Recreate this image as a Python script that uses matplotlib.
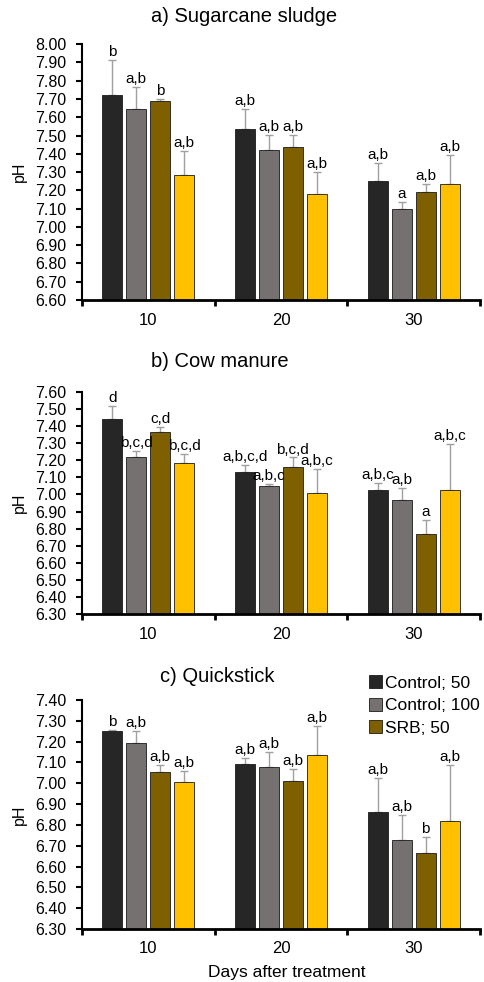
import matplotlib.pyplot as plt
import numpy as np

plt.rcParams['font.family'] = ['Liberation Sans', 'DejaVu Sans']

days = ['10', '20', '30']
series = ['Control; 50', 'Control; 100', 'SRB; 50', 'SRB; 100']
colors = ['#262626', '#767171', '#7f6000', '#ffc000']

# panel a) sugarcane sludge: rows = series, cols = day
sludge_mean = [[7.72, 7.535, 7.253],
               [7.645, 7.422, 7.096],
               [7.69, 7.437, 7.191],
               [7.282, 7.178, 7.233]]
sludge_top = [[7.912, 7.645, 7.351],
              [7.765, 7.504, 7.134],
              [7.70, 7.504, 7.234],
              [7.413, 7.302, 7.395]]
sludge_lbl = [['b', 'a,b', 'a,b'],
              ['a,b', 'a,b', 'a'],
              ['b', 'a,b', 'a,b'],
              ['a,b', 'a,b', 'a,b']]

# panel b) cow manure
manure_mean = [[7.442, 7.133, 7.028],
               [7.217, 7.048, 6.970],
               [7.364, 7.163, 6.767],
               [7.182, 7.009, 7.028]]
manure_top = [[7.518, 7.174, 7.067],
              [7.254, 7.061, 7.036],
              [7.395, 7.217, 6.85],
              [7.235, 7.149, 7.294]]
manure_lbl = [['d', 'a,b,c,d', 'a,b,c'],
              ['b,c,d', 'a,b,c', 'a,b'],
              ['c,d', 'b,c,d', 'a'],
              ['b,c,d', 'a,b,c', 'a,b,c']]

# panel c) quickstick
quick_mean = [[7.253, 7.091, 6.863],
              [7.192, 7.08, 6.725],
              [7.055, 7.012, 6.663],
              [7.007, 7.138, 6.82]]
quick_top = [[7.256, 7.12, 7.026],
             [7.251, 7.151, 6.848],
             [7.087, 7.067, 6.74],
             [7.061, 7.275, 7.087]]
quick_lbl = [['b', 'a,b', 'a,b'],
             ['a,b', 'a,b', 'a,b'],
             ['a,b', 'a,b', 'b'],
             ['a,b', 'a,b', 'a,b']]

panels = [
    ('a) Sugarcane sludge', sludge_mean, sludge_top, sludge_lbl, (6.6, 8.0),
     [0.169, 0.6945, 0.823, 0.2605], (0.504, 0.9837)),
    ('b) Cow manure', manure_mean, manure_top, manure_lbl, (6.3, 7.6),
     [0.169, 0.3747, 0.823, 0.2261], (0.455, 0.6314)),
    ('c) Quickstick', quick_mean, quick_top, quick_lbl, (6.3, 7.4),
     [0.169, 0.054, 0.823, 0.2332], (0.448, 0.3106)),
]

fig = plt.figure(figsize=(4.84, 9.82), dpi=100)
x = np.arange(len(days)) + 1
width = 0.15
step = 0.18

for title, mean, top, lbl, ylim, pos, tpos in panels:
    ax = fig.add_axes(pos)
    for i, name in enumerate(series):
        xs = x + (i - 1.5) * step
        m = np.array(mean[i])
        err = np.array(top[i]) - m
        ax.bar(xs, m - ylim[0], width, bottom=ylim[0], color=colors[i],
               edgecolor='#1a1a1a', linewidth=0.6, label=name, zorder=2)
        ax.errorbar(xs, m, yerr=[np.zeros_like(err), err], fmt='none',
                    ecolor='#a0a0a0', elinewidth=1, capsize=3, capthick=1, zorder=1)
        for xx, tt, s in zip(xs, top[i], lbl[i]):
            ax.text(xx, tt + (ylim[1] - ylim[0]) * 0.004, s, ha='center', va='bottom', fontsize=11)
    ax.set_xlim(0.5, 3.5)
    ax.set_ylim(*ylim)
    yt = np.arange(ylim[0], ylim[1] + 0.001, 0.1)
    ax.set_yticks(yt)
    ax.set_yticklabels(['%.2f' % v for v in yt], fontsize=11.5)
    ax.set_xticks([0.5, 1.5, 2.5, 3.5])
    ax.set_xticklabels([])
    ax.set_xticks(x, minor=True)
    ax.set_xticklabels(days, minor=True, fontsize=12)
    ax.tick_params(axis='x', which='minor', length=0, pad=9)
    ax.tick_params(axis='x', which='major', length=4, width=2, direction='out')
    ax.tick_params(axis='y', length=4, width=1.5, direction='out', pad=7)
    ax.spines['top'].set_visible(False)
    ax.spines['right'].set_visible(False)
    ax.spines['bottom'].set_linewidth(2)
    ax.spines['left'].set_linewidth(1.5)
    ax.set_ylabel('pH', fontsize=11.5)
    ax.yaxis.set_label_coords(-0.138, 0.5)
    fig.text(tpos[0], tpos[1], title, ha='center', va='center', fontsize=14.5)
    last = ax

last.set_xlabel('Days after treatment', fontsize=12.5)
last.xaxis.set_label_coords(0.514, -0.157)
handles, labels = last.get_legend_handles_labels()
fig.legend(handles[:3], labels[:3], loc='upper left', bbox_to_anchor=(0.744, 0.321),
           frameon=False, fontsize=12.5, handlelength=0.75, handleheight=0.75,
           handletextpad=0.2, labelspacing=0.4, borderpad=0)

fig.savefig('out.png', dpi=100)
